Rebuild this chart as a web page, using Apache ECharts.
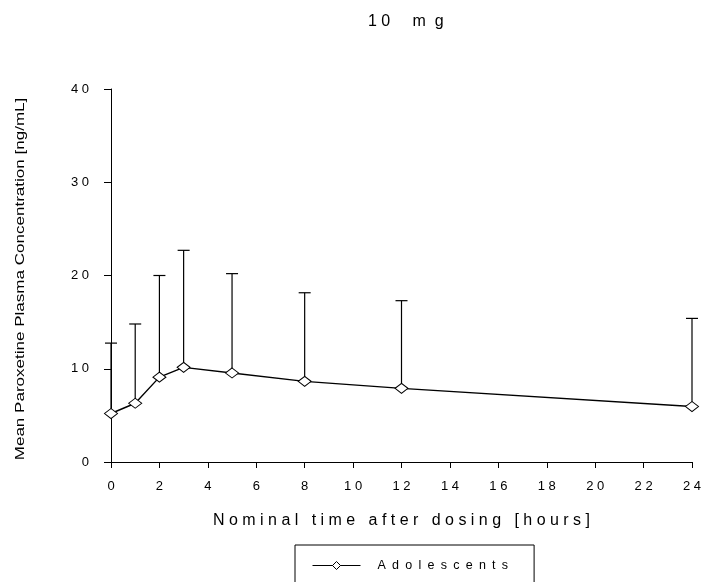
<!DOCTYPE html>
<html>
<head>
<meta charset="utf-8">
<script src="https://cdn.jsdelivr.net/npm/echarts@6/dist/echarts.min.js"></script>
<style>
html,body{margin:0;padding:0;background:#fff;}
#chart{width:707px;height:582px;}
</style>
</head>
<body>
<div id="chart"></div>
<script>
// ---- data ----
const chartTitle = "10 mg";
const seriesName = "Adolescents";
const yAxisTitle = "Mean Paroxetine Plasma Concentration [ng/mL]";
const xAxisTitle = "Nominal time after dosing [hours]";
const times = [0, 1, 2, 3, 5, 8, 12, 24];
const meanConc = [5.2, 6.3, 9.1, 10.15, 9.55, 8.65, 7.9, 5.95];
const upperSD = [12.75, 14.8, 20.0, 22.7, 20.2, 18.15, 17.3, 15.4];
const xTicks = { min: 0, max: 24, interval: 2 };
const yTicks = { min: 0, max: 40, interval: 10 };

const FONT = "'Liberation Sans', Arial, sans-serif";
const spaced = (s, j) => String(s).split('').join(j === undefined ? ' ' : j);

const meanData = times.map((t, i) => [t, meanConc[i]]);
const errData = times.map((t, i) => [t, meanConc[i], upperSD[i]]);

const chart = echarts.init(document.getElementById('chart'), null, { renderer: 'canvas' });
chart.setOption({
  animation: false,
  backgroundColor: '#fff',
  title: {
    text: chartTitle.split(' ').map(w => spaced(w, w === 'mg' ? '  ' : ' ')).join('     '),
    left: 368, top: 14, padding: 0,
    textStyle: { fontFamily: FONT, fontSize: 16, fontWeight: 'normal', color: '#000' }
  },
  grid: { left: 111, right: 15, top: 89, bottom: 120, containLabel: false },
  xAxis: {
    type: 'value', min: xTicks.min, max: xTicks.max, interval: xTicks.interval,
    name: xAxisTitle.split(' ').map(w => spaced(w, ' ')).join('   '),
    nameLocation: 'middle', nameGap: 51,
    nameTextStyle: { fontFamily: FONT, fontSize: 16, color: '#000' },
    axisLine: { lineStyle: { color: '#000', width: 1 } },
    axisTick: { length: 6, lineStyle: { color: '#000', width: 1 } },
    axisLabel: { formatter: v => spaced(v), fontFamily: FONT, fontSize: 13, color: '#000', margin: 18 },
    splitLine: { show: false }
  },
  yAxis: {
    type: 'value', min: yTicks.min, max: yTicks.max, interval: yTicks.interval,
    axisLine: { show: true, lineStyle: { color: '#000', width: 1 } },
    axisTick: { show: true, length: 7, lineStyle: { color: '#000', width: 1 } },
    axisLabel: { formatter: v => spaced(v), fontFamily: FONT, fontSize: 13, color: '#000', margin: 22 },
    splitLine: { show: false }
  },
  graphic: [{
    type: 'text', x: 20, y: 279, rotation: Math.PI / 2, scaleX: 1.31,
    style: { text: yAxisTitle, fontFamily: FONT, fontSize: 13, fill: '#000', align: 'center', verticalAlign: 'middle' }
  }],
  legend: {
    left: 295, top: 545,
    padding: [14, 26, 14, 17],
    borderColor: '#000', borderWidth: 1,
    itemWidth: 48, itemHeight: 10,
    formatter: n => spaced(n, '\u2002'),
    itemStyle: { color: '#fff', borderColor: '#000', borderWidth: 1 },
    lineStyle: { color: '#000', width: 1 },
    textStyle: { fontFamily: FONT, fontSize: 12.5, color: '#000', padding: [0, 0, 0, 12] },
    data: [seriesName]
  },
  series: [
    {
      type: 'custom', name: 'sd', silent: true, z: 1,
      data: errData,
      renderItem: (params, api) => {
        const x = api.value(0);
        const p0 = api.coord([x, api.value(1)]);
        const p1 = api.coord([x, api.value(2)]);
        const cw = 6;
        return {
          type: 'group',
          children: [
            { type: 'line', shape: { x1: p0[0], y1: p0[1], x2: p1[0], y2: p1[1] }, style: { stroke: '#000', lineWidth: 1.2 } },
            { type: 'line', shape: { x1: p1[0] - cw, y1: p1[1], x2: p1[0] + cw, y2: p1[1] }, style: { stroke: '#000', lineWidth: 1.2 } }
          ]
        };
      }
    },
    {
      type: 'line', name: seriesName, z: 5,
      data: meanData,
      symbol: 'diamond', symbolSize: [13, 10],
      lineStyle: { color: '#000', width: 1.4 },
      itemStyle: { color: '#fff', borderColor: '#000', borderWidth: 1 }
    }
  ]
});
</script>
</body>
</html>
